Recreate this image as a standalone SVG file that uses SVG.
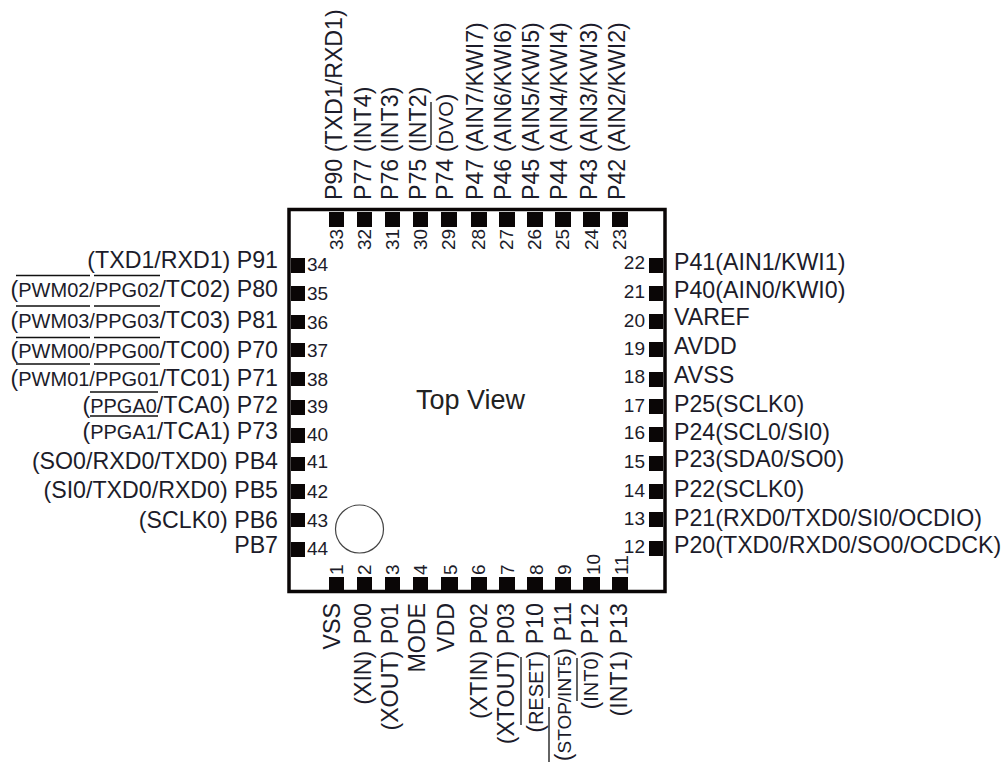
<svg xmlns="http://www.w3.org/2000/svg" width="1003" height="765" viewBox="0 0 1003 765">
<style>
text{font-family:"Liberation Sans",Arial,sans-serif;fill:#1c1c2a}
.l{font-size:23.200px}.n{font-size:19px}
.e{text-anchor:end}
.s{font-size:20px}
.x{font-size:19px}
.t{font-size:27px;fill:#222}
rect.p{fill:#0a0606}
.o{stroke:#111;stroke-width:1.3;fill:none}
</style>
<rect width="1003" height="765" fill="#fff"/>
<g id="package"><rect x="289" y="209.500" width="376" height="382" fill="none" stroke="#0a0606" stroke-width="3.500"/><circle cx="359.500" cy="529" r="24" fill="none" stroke="#444" stroke-width="1.200"/><text class="t" x="416" y="409">Top View</text></g>
<g id="pin33"><rect class="p" x="329" y="212" width="15" height="15"/><text class="n" transform="translate(343 250) rotate(-90)">33</text><text class="l" transform="translate(342 200) rotate(-90)">P90 (TXD1/RXD1)</text></g>
<g id="pin32"><rect class="p" x="357" y="212" width="15" height="15"/><text class="n" transform="translate(371 250) rotate(-90)">32</text><text class="l" transform="translate(371 200) rotate(-90)">P77 (INT4)</text></g>
<g id="pin31"><rect class="p" x="385" y="212" width="15" height="15"/><text class="n" transform="translate(399 250) rotate(-90)">31</text><text class="l" transform="translate(398 200) rotate(-90)">P76 (INT3)</text></g>
<g id="pin30"><rect class="p" x="413" y="212" width="15" height="15"/><text class="n" transform="translate(427 250) rotate(-90)">30</text><text class="l" transform="translate(426 200) rotate(-90)">P75 (INT2)</text></g>
<g id="pin29"><rect class="p" x="441" y="212" width="16" height="15"/><text class="n" transform="translate(455 250) rotate(-90)">29</text><text class="l" transform="translate(453 200) rotate(-90)">P74 (<tspan class="s">DVO</tspan>)</text></g>
<g id="pin28"><rect class="p" x="471" y="212" width="16" height="15"/><text class="n" transform="translate(485 250) rotate(-90)">28</text><text class="l" transform="translate(483 200) rotate(-90)">P47 (AIN7/KWI7)</text></g>
<g id="pin27"><rect class="p" x="499" y="212" width="16" height="15"/><text class="n" transform="translate(513 250) rotate(-90)">27</text><text class="l" transform="translate(511 200) rotate(-90)">P46 (AIN6/KWI6)</text></g>
<g id="pin26"><rect class="p" x="527" y="212" width="16" height="15"/><text class="n" transform="translate(541 250) rotate(-90)">26</text><text class="l" transform="translate(539 200) rotate(-90)">P45 (AIN5/KWI5)</text></g>
<g id="pin25"><rect class="p" x="555" y="212" width="16" height="15"/><text class="n" transform="translate(569 250) rotate(-90)">25</text><text class="l" transform="translate(567 200) rotate(-90)">P44 (AIN4/KWI4)</text></g>
<g id="pin24"><rect class="p" x="583" y="212" width="17" height="15"/><text class="n" transform="translate(598 250) rotate(-90)">24</text><text class="l" transform="translate(597 200) rotate(-90)">P43 (AIN3/KWI3)</text></g>
<g id="pin23"><rect class="p" x="612" y="212" width="16" height="15"/><text class="n" transform="translate(626 250) rotate(-90)">23</text><text class="l" transform="translate(625 200) rotate(-90)">P42 (AIN2/KWI2)</text></g>
<g id="pin34"><rect class="p" x="291" y="258" width="14" height="15"/><text class="n" x="307" y="271">34</text><text class="l e" x="278" y="268">(TXD1/RXD1) P91</text></g>
<g id="pin35"><rect class="p" x="291" y="286" width="14" height="15"/><text class="n" x="307" y="300">35</text><text class="l e" x="278" y="297">(<tspan class="s">PWM02/PPG02</tspan>/TC02) P80</text></g>
<g id="pin36"><rect class="p" x="291" y="315" width="14" height="14"/><text class="n" x="307" y="329">36</text><text class="l e" x="278" y="328">(<tspan class="s">PWM03/PPG03</tspan>/TC03) P81</text></g>
<g id="pin37"><rect class="p" x="291" y="343" width="14" height="14"/><text class="n" x="307" y="357">37</text><text class="l e" x="278" y="358">(<tspan class="s">PWM00/PPG00</tspan>/TC00) P70</text></g>
<g id="pin38"><rect class="p" x="291" y="372" width="14" height="14"/><text class="n" x="307" y="386">38</text><text class="l e" x="278" y="386">(<tspan class="s">PWM01/PPG01</tspan>/TC01) P71</text></g>
<g id="pin39"><rect class="p" x="291" y="400" width="14" height="15"/><text class="n" x="307" y="413">39</text><text class="l e" x="278" y="413">(<tspan class="s">PPGA0</tspan>/TCA0) P72</text></g>
<g id="pin40"><rect class="p" x="291" y="428" width="14" height="15"/><text class="n" x="307" y="441">40</text><text class="l e" x="278" y="439">(<tspan class="s">PPGA1</tspan>/TCA1) P73</text></g>
<g id="pin41"><rect class="p" x="291" y="457" width="14" height="14"/><text class="n" x="307" y="468">41</text><text class="l e" x="278" y="469">(SO0/RXD0/TXD0) PB4</text></g>
<g id="pin42"><rect class="p" x="291" y="484" width="14" height="15"/><text class="n" x="307" y="498">42</text><text class="l e" x="278" y="498">(SI0/TXD0/RXD0) PB5</text></g>
<g id="pin43"><rect class="p" x="291" y="513" width="14" height="14"/><text class="n" x="307" y="527">43</text><text class="l e" x="278" y="528">(SCLK0) PB6</text></g>
<g id="pin44"><rect class="p" x="291" y="542" width="14" height="15"/><text class="n" x="307" y="555">44</text><text class="l e" x="278" y="553">PB7</text></g>
<g id="pin22"><rect class="p" x="649" y="258" width="14" height="15"/><text class="n e" x="645" y="269">22</text><text class="l" x="674" y="270">P41(AIN1/KWI1)</text></g>
<g id="pin21"><rect class="p" x="649" y="286" width="14" height="15"/><text class="n e" x="645" y="298">21</text><text class="l" x="674" y="298">P40(AIN0/KWI0)</text></g>
<g id="pin20"><rect class="p" x="649" y="314" width="14" height="15"/><text class="n e" x="645" y="327">20</text><text class="l" x="674" y="325">VAREF</text></g>
<g id="pin19"><rect class="p" x="649" y="342" width="14" height="15"/><text class="n e" x="645" y="355">19</text><text class="l" x="674" y="354">AVDD</text></g>
<g id="pin18"><rect class="p" x="649" y="372" width="14" height="15"/><text class="n e" x="645" y="383">18</text><text class="l" x="674" y="383">AVSS</text></g>
<g id="pin17"><rect class="p" x="649" y="399" width="14" height="15"/><text class="n e" x="645" y="412">17</text><text class="l" x="674" y="412">P25(SCLK0)</text></g>
<g id="pin16"><rect class="p" x="649" y="427" width="14" height="15"/><text class="n e" x="645" y="439">16</text><text class="l" x="674" y="440">P24(SCL0/SI0)</text></g>
<g id="pin15"><rect class="p" x="649" y="456" width="14" height="15"/><text class="n e" x="645" y="468">15</text><text class="l" x="674" y="467">P23(SDA0/SO0)</text></g>
<g id="pin14"><rect class="p" x="649" y="484" width="14" height="15"/><text class="n e" x="645" y="497">14</text><text class="l" x="674" y="497">P22(SCLK0)</text></g>
<g id="pin13"><rect class="p" x="649" y="512" width="14" height="15"/><text class="n e" x="645" y="525">13</text><text class="l" x="674" y="526">P21(RXD0/TXD0/SI0/OCDIO)</text></g>
<g id="pin12"><rect class="p" x="649" y="541" width="14" height="15"/><text class="n e" x="645" y="553">12</text><text class="l" x="674" y="553">P20(TXD0/RXD0/SO0/OCDCK)</text></g>
<g id="pin1"><rect class="p" x="329" y="577" width="15" height="14"/><text class="n" transform="translate(343 575) rotate(-90)">1</text><text class="l e" transform="translate(340 603) rotate(-90)">VSS</text></g>
<g id="pin2"><rect class="p" x="357" y="577" width="15" height="14"/><text class="n" transform="translate(371 575) rotate(-90)">2</text><text class="l e" transform="translate(371 603) rotate(-90)">(XIN) P00</text></g>
<g id="pin3"><rect class="p" x="385" y="577" width="15" height="14"/><text class="n" transform="translate(399 575) rotate(-90)">3</text><text class="l e" transform="translate(398 603) rotate(-90)">(XOUT) P01</text></g>
<g id="pin4"><rect class="p" x="413" y="577" width="15" height="14"/><text class="n" transform="translate(427 575) rotate(-90)">4</text><text class="l e" transform="translate(425 603) rotate(-90)">MODE</text></g>
<g id="pin5"><rect class="p" x="441" y="577" width="17" height="14"/><text class="n" transform="translate(457 575) rotate(-90)">5</text><text class="l e" transform="translate(454 603) rotate(-90)">VDD</text></g>
<g id="pin6"><rect class="p" x="471" y="577" width="16" height="14"/><text class="n" transform="translate(485 575) rotate(-90)">6</text><text class="l e" transform="translate(487 603) rotate(-90)">(XTIN) P02</text></g>
<g id="pin7"><rect class="p" x="499" y="577" width="16" height="14"/><text class="n" transform="translate(514 575) rotate(-90)">7</text><text class="l e" transform="translate(514 603) rotate(-90)">(XTOUT) P03</text></g>
<g id="pin8"><rect class="p" x="527" y="577" width="16" height="14"/><text class="n" transform="translate(543 575) rotate(-90)">8</text><text class="l e" transform="translate(543 603) rotate(-90)">(<tspan class="s">RESET</tspan>) P10</text></g>
<g id="pin9"><rect class="p" x="555" y="577" width="16" height="14"/><text class="n" transform="translate(571 575) rotate(-90)">9</text><text class="l e" transform="translate(571 602) rotate(-90)">(<tspan class="x">STOP/INT5</tspan>) P11</text></g>
<g id="pin10"><rect class="p" x="583" y="577" width="17" height="14"/><text class="n" transform="translate(600 575) rotate(-90)">10</text><text class="l e" transform="translate(598 603) rotate(-90)">(<tspan class="s">INT0</tspan>) P12</text></g>
<g id="pin11"><rect class="p" x="612" y="577" width="16" height="14"/><text class="n" transform="translate(628 575) rotate(-90)">11</text><text class="l e" transform="translate(627 603) rotate(-90)">(INT1) P13</text></g>
<g id="connectors" class="o">
<path d="M16 275.500H90M94 275.500H160M16 306H90M94 306H160M16 337.500H90M94 337.500H160M16 364H90M94 364H160M90 392H158M90 416H158"/>
<path d="M431 102V145M521 657V725M549 655V698M549 707V762M577 658V701"/>
</g>
</svg>
